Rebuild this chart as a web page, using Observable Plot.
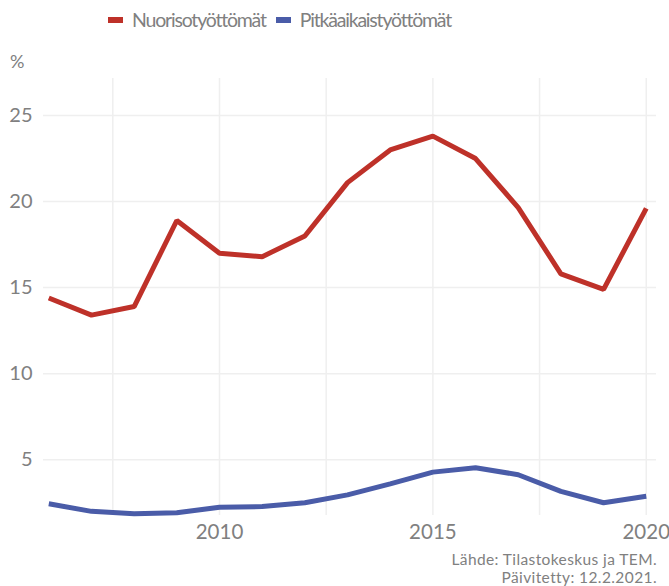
<!DOCTYPE html>
<html><head><meta charset="utf-8">
<script src="https://cdn.jsdelivr.net/npm/d3@7"></script>
<script src="https://cdn.jsdelivr.net/npm/@observablehq/plot@0.6"></script>
<style>
body{margin:0;background:#fff;font-family:Lato,"Open Sans",sans-serif;}
#wrap{position:relative;width:669px;height:586px;overflow:hidden;}
#legend{position:absolute;left:108px;top:8px;display:flex;align-items:center;font-size:19.5px;letter-spacing:-1.2px;font-weight:400;color:#808080;white-space:nowrap;}
#legend .sw{display:inline-block;width:15px;height:6px;margin-right:9px;}
#legend .it{display:flex;align-items:center;margin-right:10px;}
#pct{position:absolute;left:10px;top:50px;font-size:18px;font-weight:400;color:#808080;}
.capl{position:absolute;right:12px;font-size:15.5px;letter-spacing:0.4px;line-height:18px;font-weight:400;color:#808080;text-align:right;white-space:nowrap;}
</style></head><body><div id="wrap"></div>
<script>
const years = [2006,2007,2008,2009,2010,2011,2012,2013,2014,2015,2016,2017,2018,2019,2020];
const nuoriso = [14.4,13.4,13.9,18.9,17.0,16.8,18.0,21.1,23.0,23.8,22.5,19.65,15.8,14.9,19.6];
const pitka = [2.44,2.0,1.86,1.92,2.24,2.28,2.5,2.96,3.6,4.28,4.53,4.13,3.16,2.5,2.88];
const seriesNames = ["Nuorisotyöttömät","Pitkäaikaistyöttömät"];
const colors = ["#be3129","#4a5ca8"];
const xTicks = [2010,2015,2020];
const xGrid = [2007.5,2010,2012.5,2015,2017.5,2020];
const yTicks = [5,10,15,20,25];
const yLabel = "%";
const captionLines = ["Lähde: Tilastokeskus ja TEM.","Päivitetty: 12.2.2021."];

const data = years.flatMap((y,i)=>[
  {year:y,value:nuoriso[i],series:seriesNames[0]},
  {year:y,value:pitka[i],series:seriesNames[1]}
]);

const chart = Plot.plot({
  width:669,height:586,
  marginLeft:43,marginRight:13,marginTop:78,marginBottom:71,
  style:{color:"#808080",fontFamily:"Lato, 'Open Sans', sans-serif",fontWeight:400,background:"#fff"},
  x:{domain:[2005.876,2020.24]},
  y:{domain:[1.76,27.15]},
  color:{domain:seriesNames,range:colors},
  marks:[
    Plot.ruleX(xGrid,{stroke:"#efefef",strokeWidth:1.5}),
    Plot.ruleY(yTicks,{stroke:"#efefef",strokeWidth:1.5}),
    Plot.axisX({ticks:xTicks,tickFormat:d=>String(d),tickSize:0,tickPadding:9,fontSize:20.5,label:null}),
    Plot.axisY({ticks:yTicks,tickSize:0,tickPadding:11,fontSize:20,label:null}),
    Plot.line(data,{x:"year",y:"value",stroke:"series",strokeWidth:5,strokeLinejoin:"miter",strokeLinecap:"butt"})
  ]
});
const wrap = document.getElementById("wrap");
wrap.appendChild(chart);

const leg = document.createElement("div"); leg.id="legend";
seriesNames.forEach((n,i)=>{
  const it=document.createElement("span"); it.className="it";
  const sw=document.createElement("span"); sw.className="sw"; sw.style.background=colors[i];
  it.appendChild(sw); it.appendChild(document.createTextNode(n)); leg.appendChild(it);
});
wrap.appendChild(leg);
const pct=document.createElement("div"); pct.id="pct"; pct.textContent=yLabel; wrap.appendChild(pct);
captionLines.forEach((t,i)=>{
  const d=document.createElement("div"); d.className="capl"; d.style.top=(550+i*18)+"px"; d.textContent=t; wrap.appendChild(d);
});
</script></body></html>
